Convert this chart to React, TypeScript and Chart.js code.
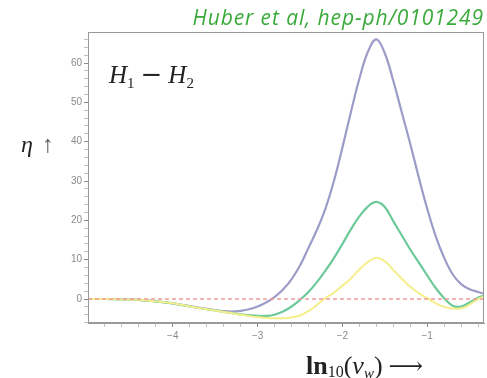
import React, { useEffect, useRef } from "react";
import { Chart, registerables } from "chart.js";

Chart.register(...registerables);

const xValues = [-5.0, -4.8, -4.6, -4.4, -4.2, -4.0, -3.8, -3.6, -3.5, -3.4, -3.3, -3.2, -3.1, -3.0, -2.9, -2.8, -2.7, -2.6, -2.5, -2.4, -2.3, -2.2, -2.1, -2.0, -1.9, -1.8, -1.7, -1.6, -1.5, -1.4, -1.3, -1.2, -1.1, -1.0, -0.9, -0.8, -0.7, -0.6, -0.5, -0.4, -0.33];

const blueValues = [0.0, 0.0, -0.1, -0.2, -0.6, -1.1, -1.8, -2.5, -2.8, -3.1, -3.2, -3.0, -2.6, -1.9, -0.9, 0.5, 2.4, 5.0, 8.5, 13.0, 17.6, 23.0, 30.0, 38.5, 47.5, 56.0, 62.8, 66.0, 62.5, 55.5, 47.5, 39.5, 31.0, 23.0, 16.0, 10.5, 6.3, 3.8, 2.5, 1.8, 1.4];

const greenValues = [0.0, 0.0, -0.1, -0.2, -0.6, -1.1, -1.9, -2.6, -2.9, -3.3, -3.6, -3.9, -4.1, -4.3, -4.3, -4.0, -3.2, -1.9, -0.2, 1.8, 4.3, 7.2, 10.4, 14.0, 17.7, 21.0, 23.5, 24.7, 23.4, 19.8, 16.2, 12.6, 9.3, 6.0, 2.8, 0.2, -1.7, -1.9, -0.9, 0.3, 0.9];

const yellowValues = [0.0, 0.0, -0.1, -0.2, -0.6, -1.1, -1.9, -2.6, -2.9, -3.3, -3.6, -4.0, -4.3, -4.6, -4.8, -4.9, -4.9, -4.7, -4.2, -3.1, -1.5, 0.3, 1.6, 3.4, 5.2, 7.5, 9.4, 10.5, 9.6, 7.4, 5.2, 3.1, 1.5, 0.2, -1.1, -2.0, -2.4, -2.4, -1.4, 0.0, 0.6];

const zeroLine = [0, 0];
const zeroLineX = [-5.0, -0.33];

const xMajorTicks = [-4, -3, -2, -1];
const yMajorTicks = [0, 10, 20, 30, 40, 50, 60];

const pts = (xs: number[], ys: number[]) => xs.map((x, i) => ({ x, y: ys[i] }));

const framePlugin = {
  id: "frame",
  afterDraw(chart: any) {
    const { ctx, chartArea } = chart;
    ctx.save();
    ctx.strokeStyle = "#9a9a9a";
    ctx.lineWidth = 1;
    ctx.strokeRect(chartArea.left + 0.5, chartArea.top + 0.5, chartArea.right - chartArea.left - 1, chartArea.bottom - chartArea.top - 1);
    ctx.restore();
  },
};

export default function App() {
  const ref = useRef<HTMLCanvasElement | null>(null);

  useEffect(() => {
    if (!ref.current) return;
    const chart = new Chart(ref.current, {
      type: "line",
      data: {
        datasets: [
          {
            label: "zero",
            data: pts(zeroLineX, zeroLine),
            borderColor: "#f29a9a",
            borderWidth: 1.5,
            borderDash: [4, 3],
            pointRadius: 0,
          },
          {
            label: "yellow",
            data: pts(xValues, yellowValues),
            borderColor: "#f4ef8a",
            borderWidth: 2,
            pointRadius: 0,
            tension: 0.4,
          },
          {
            label: "green",
            data: pts(xValues, greenValues),
            borderColor: "#6cc99a",
            borderWidth: 2.2,
            pointRadius: 0,
            tension: 0.4,
          },
          {
            label: "blue",
            data: pts(xValues, blueValues),
            borderColor: "#9c9cc8",
            borderWidth: 2.2,
            pointRadius: 0,
            tension: 0.4,
          },
        ],
      },
      options: {
        animation: false,
        responsive: false,
        layout: { padding: { top: 32, right: 3, left: 0, bottom: 0 } },
        plugins: { legend: { display: false }, tooltip: { enabled: false }, title: { display: false } },
        scales: {
          x: {
            type: "linear",
            min: -5.0,
            max: -0.33,
            afterBuildTicks: (scale: any) => {
              const t: { value: number }[] = [];
              for (let i = -24; i <= -2; i++) t.push({ value: i / 5 });
              scale.ticks = t;
            },
            afterFit: (scale: any) => {
              scale.height = 55;
            },
            ticks: {
              autoSkip: false,
              maxRotation: 0,
              padding: 3,
              color: "#8a8a8a",
              font: { family: "Liberation Sans", size: 10 },
              callback: (v: any) => {
                const n = Number(v);
                return xMajorTicks.some((m) => Math.abs(m - n) < 1e-6) ? "\u2212" + Math.abs(Math.round(n)) : "";
              },
            },
            grid: {
              drawOnChartArea: false,
              drawTicks: true,
              tickLength: 4,
              tickColor: (c: any) => {
                const n = c.tick ? c.tick.value : 0;
                return Math.abs(n - Math.round(n)) < 1e-6 ? "#8a8a8a" : "#c0c0c0";
              },
            },
            border: { display: true, color: "#9a9a9a" },
          },
          y: {
            type: "linear",
            min: -6.1,
            max: 67.9,
            afterBuildTicks: (scale: any) => {
              const t: { value: number }[] = [];
              for (let v = -6; v <= 66; v += 2) t.push({ value: v });
              scale.ticks = t;
            },
            afterFit: (scale: any) => {
              scale.width = 88;
            },
            ticks: {
              autoSkip: false,
              padding: 2,
              color: "#8a8a8a",
              font: { family: "Liberation Sans", size: 10 },
              callback: (v: any) => {
                const n = Number(v);
                return yMajorTicks.includes(n) ? String(n) : "";
              },
            },
            grid: {
              drawOnChartArea: false,
              drawTicks: true,
              tickLength: 4,
              tickColor: (c: any) => {
                const n = c.tick ? c.tick.value : 0;
                return n % 10 === 0 ? "#8a8a8a" : "#c0c0c0";
              },
            },
            border: { display: true, color: "#9a9a9a" },
          },
        },
      },
      plugins: [framePlugin],
    } as any);
    return () => chart.destroy();
  }, []);

  const serif = "'Liberation Serif', 'DejaVu Serif', serif";

  return (
    <div style={{ position: "absolute", left: 0, top: 0, width: 487, height: 378, background: "#fff", overflow: "hidden" }}>
      <canvas ref={ref} width={487} height={378} style={{ position: "absolute", left: 0, top: 0, width: 487, height: 378 }} />
      <div
        style={{
          position: "absolute",
          right: 3,
          top: 3,
          fontFamily: "'Open Sans', 'Liberation Sans', sans-serif",
          fontStyle: "italic",
          fontSize: 21,
          letterSpacing: 0.9,
          color: "#3aaa3a",
          whiteSpace: "nowrap",
          lineHeight: "28px",
        }}
      >
        Huber et al, hep-ph/0101249
      </div>
      <div
        style={{
          position: "absolute",
          left: 109,
          top: 60,
          fontFamily: serif,
          fontStyle: "italic",
          fontSize: 25,
          color: "#222",
          whiteSpace: "nowrap",
          lineHeight: "28px",
        }}
      >
        H<span style={{ fontSize: 15, fontStyle: "normal", position: "relative", top: 5 }}>1</span>
        <span style={{ fontStyle: "normal", fontFamily: "'DejaVu Serif', serif", fontSize: 26, padding: "0 6px" }}>−</span>H
        <span style={{ fontSize: 15, fontStyle: "normal", position: "relative", top: 5 }}>2</span>
      </div>
      <div
        style={{
          position: "absolute",
          left: 21,
          top: 130,
          fontFamily: serif,
          fontSize: 24,
          color: "#222",
          whiteSpace: "nowrap",
          lineHeight: "28px",
        }}
      >
        <span style={{ fontStyle: "italic" }}>η</span>
        <span style={{ color: "#555", marginLeft: 9, fontWeight: "bold" }}>↑</span>
      </div>
      <div
        style={{
          position: "absolute",
          left: 306,
          top: 352,
          fontFamily: serif,
          fontSize: 26,
          color: "#222",
          whiteSpace: "nowrap",
          lineHeight: "28px",
        }}
      >
        <span style={{ fontWeight: "bold" }}>ln</span>
        <span style={{ fontSize: 16, position: "relative", top: 3 }}>10</span>(<span style={{ fontStyle: "italic" }}>v</span>
        <span style={{ fontSize: 15, fontStyle: "italic", position: "relative", top: 4 }}>w</span>)
        <span style={{ marginLeft: 6, fontFamily: "'DejaVu Serif', serif", fontSize: 24 }}>⟶</span>
      </div>
    </div>
  );
}
